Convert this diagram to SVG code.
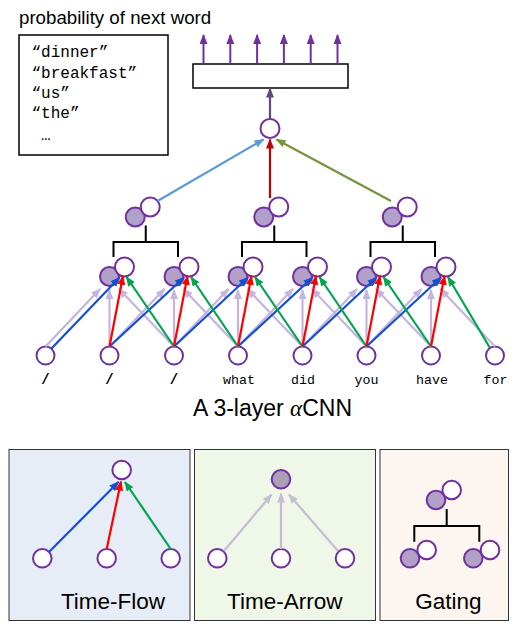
<svg xmlns="http://www.w3.org/2000/svg" width="525" height="634" viewBox="0 0 525 634">
<style>
.n{fill:#fff;stroke:#7030a0;stroke-width:2}
.f{fill:#b1a0c7;stroke:#7030a0;stroke-width:2}
.lp{stroke:#c5b5de;stroke-width:2.2;fill:none;marker-end:url(#mLP)}
.lp2{stroke:#c6bcd6;stroke-width:2.2;fill:none;marker-end:url(#mLP2)}
.b{stroke:#1450d2;stroke-width:2.2;fill:none;marker-end:url(#mB)}
.r{stroke:#ff0000;stroke-width:2.2;fill:none;marker-end:url(#mR)}
.g{stroke:#00a550;stroke-width:2.2;fill:none;marker-end:url(#mG)}
.p{stroke:#7030a0;stroke-width:2;fill:none;marker-end:url(#mP)}
.br{stroke:#000;stroke-width:2;fill:none}
.mono{font-family:"Liberation Mono","DejaVu Sans Mono",monospace;fill:#000}
.sans{font-family:"Liberation Sans","Open Sans",Arial,sans-serif;fill:#000}
</style>
<defs>
<marker id="mB" viewBox="0 0 10 8" refX="9" refY="4" markerWidth="10" markerHeight="8" markerUnits="userSpaceOnUse" orient="auto"><path d="M0,0 L10,4 L0,8 z" fill="#1450d2"/></marker>
<marker id="mR" viewBox="0 0 10 8" refX="9" refY="4" markerWidth="10" markerHeight="8" markerUnits="userSpaceOnUse" orient="auto"><path d="M0,0 L10,4 L0,8 z" fill="#ff0000"/></marker>
<marker id="mG" viewBox="0 0 10 8" refX="9" refY="4" markerWidth="10" markerHeight="8" markerUnits="userSpaceOnUse" orient="auto"><path d="M0,0 L10,4 L0,8 z" fill="#00a550"/></marker>
<marker id="mLP" viewBox="0 0 10 8" refX="9" refY="4" markerWidth="10" markerHeight="8" markerUnits="userSpaceOnUse" orient="auto"><path d="M0,0 L10,4 L0,8 z" fill="#c5b5de"/></marker>
<marker id="mLP2" viewBox="0 0 10 8" refX="9" refY="4" markerWidth="10" markerHeight="8" markerUnits="userSpaceOnUse" orient="auto"><path d="M0,0 L10,4 L0,8 z" fill="#c6bcd6"/></marker>
<marker id="mTB" viewBox="0 0 10 8" refX="9" refY="4" markerWidth="10" markerHeight="8" markerUnits="userSpaceOnUse" orient="auto"><path d="M0,0 L10,4 L0,8 z" fill="#5b9bd5"/></marker>
<marker id="mTR" viewBox="0 0 10 8" refX="9" refY="4" markerWidth="10" markerHeight="8" markerUnits="userSpaceOnUse" orient="auto"><path d="M0,0 L10,4 L0,8 z" fill="#c00000"/></marker>
<marker id="mTG" viewBox="0 0 10 8" refX="9" refY="4" markerWidth="10" markerHeight="8" markerUnits="userSpaceOnUse" orient="auto"><path d="M0,0 L10,4 L0,8 z" fill="#77933c"/></marker>
<marker id="mD" viewBox="0 0 10 8" refX="9" refY="4" markerWidth="10" markerHeight="8" markerUnits="userSpaceOnUse" orient="auto"><path d="M0,0 L10,4 L0,8 z" fill="#5f497a"/></marker>
<marker id="mP" viewBox="0 0 10 8" refX="9" refY="4" markerWidth="10" markerHeight="8" markerUnits="userSpaceOnUse" orient="auto"><path d="M0,0 L10,4 L0,8 z" fill="#7030a0"/></marker>
</defs>

<g id="panels">
<rect x="9" y="449.5" width="181" height="171" fill="#e7edf6" stroke="#333" stroke-width="1"/>
<rect x="194.5" y="449.5" width="181" height="171" fill="#eff7e8" stroke="#333" stroke-width="1"/>
<rect x="380" y="449.5" width="128.5" height="171" fill="#fdf5ef" stroke="#333" stroke-width="1"/>
</g>

<g id="legend">
<text class="sans" x="19" y="24" font-size="18.7">probability of next word</text>
<rect x="19" y="35" width="149" height="120" fill="#fff" stroke="#000" stroke-width="1.5"/>
<text class="mono" font-size="16" x="31.5" y="57">“dinner”</text>
<text class="mono" font-size="16" x="31.5" y="77.5">“breakfast”</text>
<text class="mono" font-size="16" x="31.5" y="97.5">“us”</text>
<text class="mono" font-size="16" x="31.5" y="118">“the”</text>
<text class="mono" font-size="16" x="41" y="140">…</text>
</g>

<g id="output-box"><rect x="193" y="64" width="155" height="24" fill="#fff" stroke="#000" stroke-width="1.5"/></g>
<g id="top-node"><circle class="n" cx="270" cy="128.5" r="9.5"/></g>

<g id="layer3">
<g id="l3a"><circle class="f" cx="135.25" cy="217" r="9.5"/><circle class="n" cx="150.25" cy="207" r="9.5"/></g>
<g id="l3b"><circle class="f" cx="263.75" cy="217" r="9.5"/><circle class="n" cx="278.75" cy="207" r="9.5"/></g>
<g id="l3c"><circle class="f" cx="392.25" cy="217" r="9.5"/><circle class="n" cx="407.25" cy="207" r="9.5"/></g>
</g>

<g id="layer2">
<g id="l2a"><circle class="f" cx="109.5" cy="276.5" r="9.5"/><circle class="n" cx="124.5" cy="267" r="9.5"/></g>
<g id="l2b"><circle class="f" cx="174" cy="276.5" r="9.5"/><circle class="n" cx="189" cy="267" r="9.5"/></g>
<g id="l2c"><circle class="f" cx="238" cy="276.5" r="9.5"/><circle class="n" cx="253" cy="267" r="9.5"/></g>
<g id="l2d"><circle class="f" cx="302.5" cy="276.5" r="9.5"/><circle class="n" cx="317.5" cy="267" r="9.5"/></g>
<g id="l2e"><circle class="f" cx="366.5" cy="276.5" r="9.5"/><circle class="n" cx="381.5" cy="267" r="9.5"/></g>
<g id="l2f"><circle class="f" cx="431" cy="276.5" r="9.5"/><circle class="n" cx="446" cy="267" r="9.5"/></g>
</g>

<g id="inputs">
<g id="in1"><circle class="n" cx="45.5" cy="355.5" r="9"/><text class="mono" font-size="14" font-weight="bold" x="45.5" y="384" text-anchor="middle">/</text></g>
<g id="in2"><circle class="n" cx="109.5" cy="355.5" r="9"/><text class="mono" font-size="14" font-weight="bold" x="109.5" y="384" text-anchor="middle">/</text></g>
<g id="in3"><circle class="n" cx="174" cy="355.5" r="9"/><text class="mono" font-size="14" font-weight="bold" x="174" y="384" text-anchor="middle">/</text></g>
<g id="in4"><circle class="n" cx="238" cy="355.5" r="9"/><text class="mono" font-size="13.3" x="239" y="383.5" text-anchor="middle">what</text></g>
<g id="in5"><circle class="n" cx="302.5" cy="355.5" r="9"/><text class="mono" font-size="13.3" x="303" y="383.5" text-anchor="middle">did</text></g>
<g id="in6"><circle class="n" cx="366.5" cy="355.5" r="9"/><text class="mono" font-size="13.3" x="366.5" y="383.5" text-anchor="middle">you</text></g>
<g id="in7"><circle class="n" cx="431" cy="355.5" r="9"/><text class="mono" font-size="13.3" x="432" y="383.5" text-anchor="middle">have</text></g>
<g id="in8"><circle class="n" cx="495" cy="355.5" r="9"/><text class="mono" font-size="13.3" x="495.5" y="383.5" text-anchor="middle">for</text></g>
</g>

<g id="connectors">
<path class="lp" d="M45.5,346.5L100,289"/><path class="lp" d="M109.5,346.5L109.5,290"/><path class="lp" d="M174,346.5L119,289"/>
<path class="lp" d="M109.5,346.5L164.5,289"/><path class="lp" d="M174,346.5L174,290"/><path class="lp" d="M238,346.5L183.5,289"/>
<path class="lp" d="M174,346.5L228.5,289"/><path class="lp" d="M238,346.5L238,290"/><path class="lp" d="M302.5,346.5L247.5,289"/>
<path class="lp" d="M238,346.5L293,289"/><path class="lp" d="M302.5,346.5L302.5,290"/><path class="lp" d="M366.5,346.5L312,289"/>
<path class="lp" d="M302.5,346.5L357,289"/><path class="lp" d="M366.5,346.5L366.5,290"/><path class="lp" d="M431,346.5L376,289"/>
<path class="lp" d="M366.5,346.5L421.5,289"/><path class="lp" d="M431,346.5L431,290"/><path class="lp" d="M495,346.5L440.5,289"/>
<path class="b" d="M51,349L119.5,277.5"/>
<path class="b" d="M109.5,346.5L184,277.5"/>
<path class="b" d="M174,346.5L248,277.5"/>
<path class="b" d="M238,346.5L312.5,277.5"/>
<path class="b" d="M302.5,346.5L376.5,277.5"/>
<path class="b" d="M366.5,346.5L441,277.5"/>
<path class="g" d="M174,346.5L126.5,277"/>
<path class="g" d="M238,346.5L191,277"/>
<path class="g" d="M302.5,346.5L255,277"/>
<path class="g" d="M366.5,346.5L319.5,277"/>
<path class="g" d="M431,346.5L383.5,277"/>
<path class="g" d="M490,348L448,277"/>
<path class="r" d="M109.5,346.5L123,276"/>
<path class="r" d="M174,346.5L187.5,276"/>
<path class="r" d="M238,346.5L251.5,276"/>
<path class="r" d="M302.5,346.5L316,276"/>
<path class="r" d="M366.5,346.5L380,276"/>
<path class="r" d="M431,346.5L444.5,276"/>
<path class="br" d="M113.5,257V242H178V257M145.75,242V225.5"/>
<path class="br" d="M242,257V242H306.5V257M274.25,242V225.5"/>
<path class="br" d="M370.5,257V242H435V257M402.75,242V225.5"/>
<path d="M157.5,201L263.5,139.5" stroke="#5b9bd5" stroke-width="2.2" fill="none" marker-end="url(#mTB)"/>
<path d="M270,198L270,139.5" stroke="#c00000" stroke-width="2.2" fill="none" marker-end="url(#mTR)"/>
<path d="M391,201L276.5,139.5" stroke="#77933c" stroke-width="2.2" fill="none" marker-end="url(#mTG)"/>
<path d="M270,118.5L270,88.5" stroke="#5f497a" stroke-width="2.2" fill="none" marker-end="url(#mD)"/>
<path class="p" d="M203.5,63.5V35"/><path class="p" d="M230.3,63.5V35"/><path class="p" d="M257.1,63.5V35"/>
<path class="p" d="M283.9,63.5V35"/><path class="p" d="M310.7,63.5V35"/><path class="p" d="M337.5,63.5V35"/>
</g>

<text class="sans" x="272.5" y="416" font-size="23" text-anchor="middle">A 3-layer <tspan font-style="italic" font-family="'Liberation Serif','DejaVu Serif',serif">α</tspan>CNN</text>

<g id="time-flow">
<circle class="n" cx="121.7" cy="470" r="9.3"/>
<circle class="n" cx="42.3" cy="558.3" r="9.3"/>
<circle class="n" cx="106.7" cy="558.3" r="9.3"/>
<circle class="n" cx="170.7" cy="558.3" r="9.3"/>
<path class="b" d="M49,552L118.5,482"/>
<path class="r" d="M106.7,549L121,481.5"/>
<path class="g" d="M170.7,549L125,482"/>
<text class="sans" x="113" y="608.5" font-size="22.5" text-anchor="middle">Time-Flow</text>
</g>

<g id="time-arrow">
<circle cx="281" cy="479.3" r="9.3" fill="#aaa1b8" stroke="#7030a0" stroke-width="2"/>
<circle class="n" cx="217.3" cy="558.3" r="9.3"/>
<circle class="n" cx="281" cy="558.3" r="9.3"/>
<circle class="n" cx="345" cy="558.3" r="9.3"/>
<path class="lp2" d="M224,551L271.5,494.5"/>
<path class="lp2" d="M281,549L281,493.5"/>
<path class="lp2" d="M338,551L289,494.5"/>
<text class="sans" x="284.7" y="608.5" font-size="22.5" text-anchor="middle">Time-Arrow</text>
</g>

<g id="gating">
<path class="br" d="M414.3,541.7V526H479.3V541.7M446.7,526V509"/>
<circle class="f" cx="436" cy="500" r="9.3"/>
<circle class="n" cx="451.7" cy="490" r="9.3"/>
<circle class="f" cx="410" cy="558.3" r="9.3"/>
<circle class="n" cx="426.7" cy="550" r="9.3"/>
<circle class="f" cx="473.3" cy="558.3" r="9.3"/>
<circle class="n" cx="490" cy="550" r="9.3"/>
<text class="sans" x="448.3" y="608.5" font-size="22.5" text-anchor="middle">Gating</text>
</g>
</svg>
